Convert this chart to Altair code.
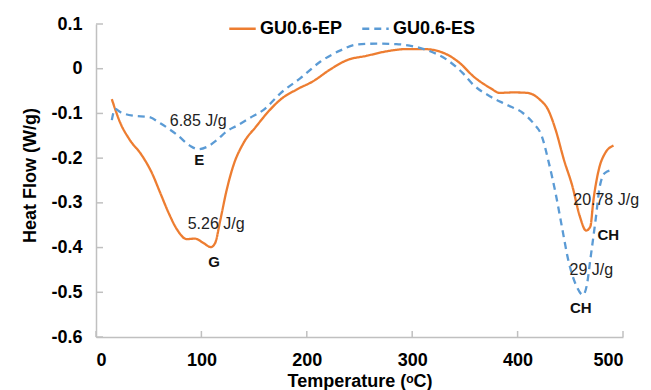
import altair as alt
import pandas as pd

FONT = "Liberation Sans"

# GU0.6-EP (solid orange)
ep_temp = [15, 23, 32, 43, 53, 61, 69, 77, 86, 94, 102, 109, 113, 118, 124, 130, 140, 152,
           165, 175, 190, 206, 222, 238, 257, 276, 295, 311, 330, 345, 358, 374, 383, 396,
           409, 421, 429, 436, 444, 452, 459, 465, 469, 472, 477, 483, 491]
ep_flow = [-0.068, -0.121, -0.159, -0.192, -0.233, -0.278, -0.323, -0.360, -0.381, -0.380,
           -0.390, -0.399, -0.390, -0.338, -0.271, -0.219, -0.166, -0.129, -0.092, -0.069,
           -0.047, -0.028, -0.002, 0.019, 0.029, 0.039, 0.044, 0.044, 0.035, 0.013, -0.017,
           -0.043, -0.054, -0.053, -0.054, -0.069, -0.092, -0.136, -0.204, -0.263, -0.330,
           -0.362, -0.353, -0.293, -0.226, -0.189, -0.172]

# GU0.6-ES (dashed blue)
es_temp = [15, 18, 23, 35, 50, 61, 77, 89, 97, 105, 115, 124, 134, 146, 159, 175, 194, 213,
           232, 247, 266, 285, 301, 317, 333, 348, 358, 374, 390, 405, 415, 423, 429, 436,
           442, 448, 456, 462, 466, 469, 474, 478, 483, 491]
es_flow = [-0.115, -0.090, -0.097, -0.105, -0.108, -0.122, -0.148, -0.172, -0.180, -0.175,
           -0.159, -0.140, -0.127, -0.110, -0.092, -0.055, -0.021, 0.016, 0.041, 0.054,
           0.056, 0.055, 0.050, 0.039, 0.020, -0.010, -0.036, -0.062, -0.081, -0.099,
           -0.122, -0.151, -0.204, -0.278, -0.353, -0.427, -0.487, -0.506, -0.480, -0.427,
           -0.338, -0.263, -0.233, -0.226]

series_names = ["GU0.6-EP", "GU0.6-ES"]
series_colors = ["#ED7D31", "#5B9BD5"]

x_ticks = [0, 100, 200, 300, 400, 500]
y_ticks = [0.1, 0.0, -0.1, -0.2, -0.3, -0.4, -0.5, -0.6]

ann_text = ["6.85 J/g", "5.26 J/g", "20.78 J/g", "29 J/g"]
ann_temp = [97, 114, 484, 470]
ann_flow = [-0.118, -0.347, -0.293, -0.451]

lbl_text = ["E", "G", "CH", "CH"]
lbl_temp = [98, 112, 486, 460]
lbl_flow = [-0.204, -0.433, -0.371, -0.535]

W, H = 527, 313

lines_df = pd.DataFrame({
    "T": ep_temp + es_temp,
    "H": ep_flow + es_flow,
    "series": [series_names[0]] * len(ep_temp) + [series_names[1]] * len(es_temp),
    "order": list(range(len(ep_temp))) + list(range(len(es_temp))),
})

xs = alt.Scale(domain=[0, 500], nice=False)
ys = alt.Scale(domain=[-0.6, 0.1], nice=False)

legend = alt.Legend(
    title=None, orient="none", direction="horizontal", legendX=132, legendY=-10,
    symbolType="stroke", symbolSize=700, symbolStrokeWidth=2.5,
    labelFont=FONT, labelFontSize=18, labelFontWeight="bold", labelColor="#000000",
    labelOffset=3, columnPadding=14, padding=0,
)

lines = alt.Chart(lines_df).mark_line(interpolate="monotone", strokeWidth=2.3).encode(
    x=alt.X("T:Q", scale=xs, axis=alt.Axis(
        title="Temperature (ᵒC)", values=x_ticks, format="d",
        titleY=44, titleBaseline="middle")),
    y=alt.Y("H:Q", scale=ys, axis=alt.Axis(
        title="Heat Flow (W/g)", values=y_ticks,
        labelExpr="abs(datum.value) < 1e-9 ? '0' : (datum.value < 0 ? '-' + format(-datum.value, '.1f') : format(datum.value, '.1f'))",
        titleX=-66, titleY=151, titleBaseline="middle", titleAngle=-90)),
    color=alt.Color("series:N", scale=alt.Scale(domain=series_names, range=series_colors), legend=legend),
    strokeDash=alt.StrokeDash("series:N", scale=alt.Scale(domain=series_names, range=[[1, 0], [7, 5]]), legend=legend),
    order="order:Q",
)

xt = alt.Chart(pd.DataFrame({"T": x_ticks})).mark_rule(color="#C0C0C0", strokeWidth=1.5).encode(
    x=alt.X("T:Q", scale=xs), y=alt.value(H), y2=alt.value(H - 6))
yt = alt.Chart(pd.DataFrame({"H": y_ticks})).mark_rule(color="#C0C0C0", strokeWidth=1.5).encode(
    y=alt.Y("H:Q", scale=ys), x=alt.value(0), x2=alt.value(7))

ann = alt.Chart(pd.DataFrame({"T": ann_temp, "H": ann_flow, "t": ann_text})).mark_text(
    font=FONT, fontSize=16, color="#222222", baseline="middle", align="center").encode(
    x=alt.X("T:Q", scale=xs), y=alt.Y("H:Q", scale=ys), text="t:N")
lbl = alt.Chart(pd.DataFrame({"T": lbl_temp, "H": lbl_flow, "t": lbl_text})).mark_text(
    font=FONT, fontSize=15, fontWeight="bold", color="#111111", baseline="middle", align="center").encode(
    x=alt.X("T:Q", scale=xs), y=alt.Y("H:Q", scale=ys), text="t:N")

chart = alt.layer(lines, xt, yt, ann, lbl).properties(
    width=W, height=H,
    autosize=alt.AutoSizeParams(type="none"),
    padding={"left": 96, "top": 24, "right": 28, "bottom": 53},
    background="white",
).configure_view(stroke=None).configure_axis(
    grid=False, ticks=False, domainColor="#C0C0C0", domainWidth=1.5,
    labelFont=FONT, labelFontSize=18, labelFontWeight="bold", labelColor="#000000",
    labelPadding=14, titleFont=FONT, titleFontSize=18, titleFontWeight="bold", titleColor="#000000",
)

chart.save("out.html", embed_options={"renderer": "svg", "actions": False})
